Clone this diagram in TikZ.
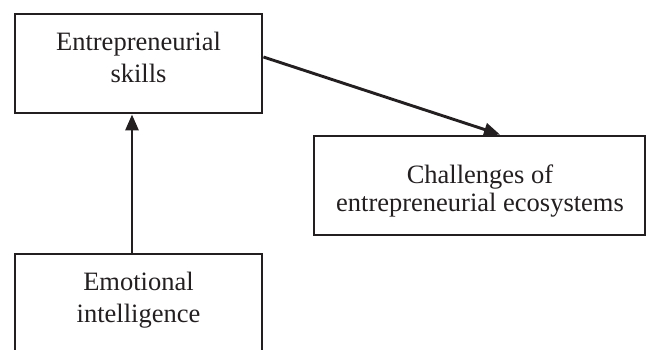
\documentclass[tikz,border=0pt]{standalone}
\usepackage{fontspec}
\setmainfont{Liberation Serif}
\usetikzlibrary{arrows.meta}
\definecolor{ink}{RGB}{35,31,32}
\begin{document}
\begin{tikzpicture}[x=1pt,y=-1pt,
  box/.style={draw=ink,line width=2.9pt,rectangle,inner sep=0pt},
  boxtext/.style={inner sep=0pt,align=center,text=ink,font=\fontsize{26.5}{32}\selectfont},
  link/.style={draw=ink,line width=2.9pt,-{Triangle[length=16pt,width=13pt]}}]
\useasboundingbox (0,0) rectangle (646,349);
\clip (0,0) rectangle (646,349);
% Entrepreneurial skills
\node[box,minimum width=247pt,minimum height=99pt] (es) at (138.5,63.5) {};
\node[boxtext] (estext) at (138.5,57) {Entrepreneurial\\skills};
% Challenges of entrepreneurial ecosystems
\node[box,minimum width=331pt,minimum height=99pt] (ch) at (479.5,185.5) {};
\node[boxtext,font=\fontsize{26.5}{28}\selectfont] (chtext) at (480,191) {Challenges of\\entrepreneurial ecosystems};
% Emotional intelligence (runs past the lower edge)
\node[box,minimum width=247pt,minimum height=120pt] (ei) at (138.5,314) {};
\node[boxtext] (eitext) at (138.5,300) {Emotional\\intelligence};
% Connectors
\draw[link] ([xshift=-6.5pt]ei.north) -- ([xshift=-6.5pt]es.south);
\draw[link] ([yshift=6.5pt]es.east) -- ([xshift=20.5pt]ch.north);
\end{tikzpicture}
\end{document}
